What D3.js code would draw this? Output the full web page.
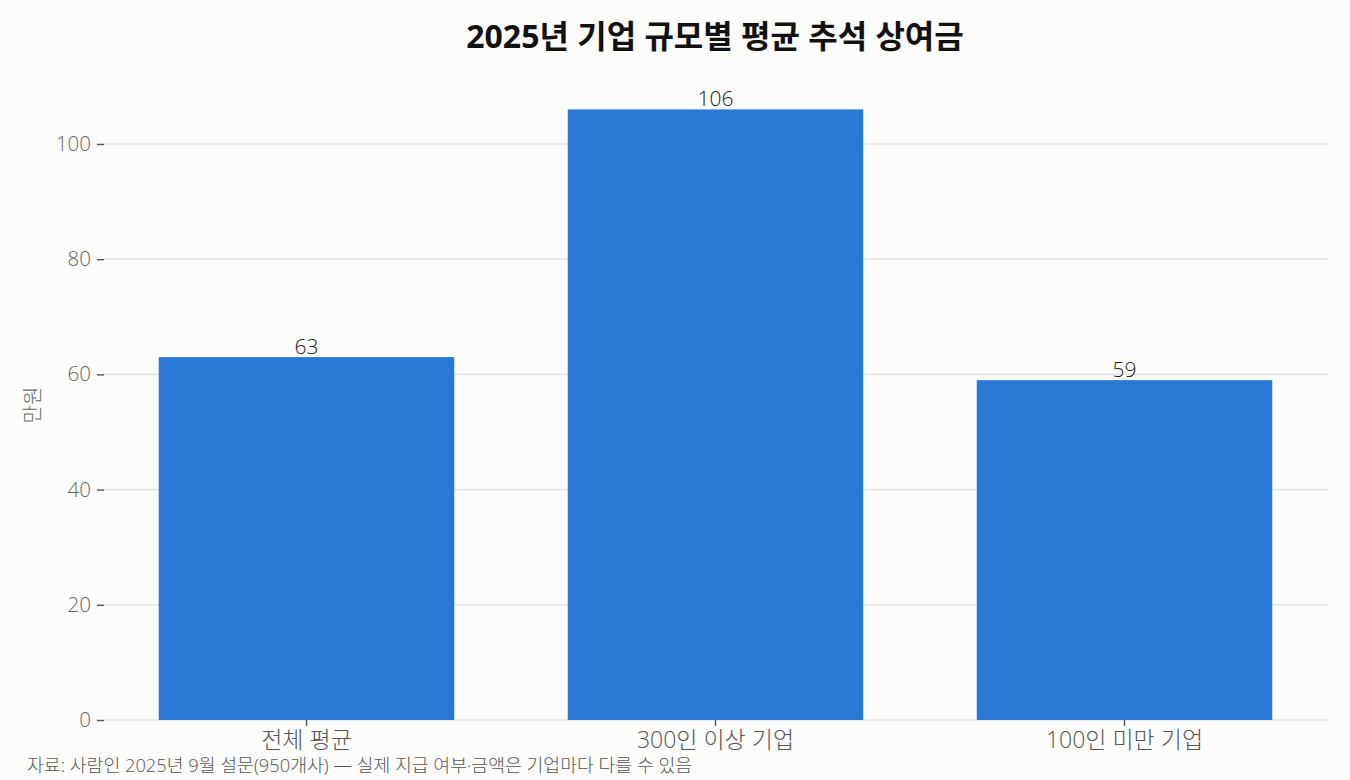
<!DOCTYPE html>
<html><head><meta charset="utf-8">
<script src="https://cdn.jsdelivr.net/npm/d3@7"></script>
<style>
html,body{margin:0;padding:0;background:#fcfcfa;}
svg{display:block;font-family:"Open Sans","Noto Sans CJK KR",sans-serif;}
</style></head><body>
<svg id="c" width="1350" height="780"></svg>
<script>
const categories = ["전체 평균", "300인 이상 기업", "100인 미만 기업"];
const values = [63, 106, 59];
const yTicks = [0, 20, 40, 60, 80, 100];
const title = "2025년 기업 규모별 평균 추석 상여금";
const yLabel = "만원";
const source = "자료: 사람인 2025년 9월 설문(950개사) — 실제 지급 여부·금액은 기업마다 다를 수 있음";

const FF = '"Open Sans","Noto Sans CJK KR",sans-serif';
const svg = d3.select("#c");
const W = 1350, H = 780;
const m = {left:104, right:22};
const x = d3.scaleBand().domain(categories).range([102, 1329]).paddingInner(0.2775).paddingOuter(0.13875);
const y = d3.scaleLinear().domain([0, 106]).range([720, 109.4]);

svg.append("rect").attr("width",W).attr("height",H).attr("fill","#fcfcfa");

svg.append("g").selectAll("line").data(yTicks).join("line")
  .attr("x1", m.left).attr("x2", W - m.right)
  .attr("y1", d=>y(d)).attr("y2", d=>y(d))
  .attr("stroke","#e6e6e6").attr("stroke-width",1.6);

svg.append("g").selectAll("rect").data(values).join("rect")
  .attr("x",(d,i)=>x(categories[i])).attr("width",x.bandwidth())
  .attr("y",d=>y(d)).attr("height",d=>y(0)-y(d))
  .attr("fill","#2a78d6");

svg.append("g").selectAll("text").data(values).join("text")
  .attr("x",(d,i)=>x(categories[i])+x.bandwidth()/2).attr("y",d=>y(d)-3)
  .attr("text-anchor","middle").attr("font-size",21).attr("font-weight",300).attr("fill","#1a1a1a")
  .attr("font-family",FF).text(d=>d);

const ya = d3.axisLeft(y).tickValues(yTicks).tickSize(7).tickPadding(6);
const gy = svg.append("g").attr("transform",`translate(${m.left},0)`).call(ya);
gy.select(".domain").remove();
gy.selectAll(".tick line").attr("stroke","#555").attr("stroke-width",1.4);
gy.selectAll(".tick text").attr("font-size",20.5).attr("font-weight",300).attr("fill","#666").attr("font-family",FF);

const xa = d3.axisBottom(x).tickSize(6).tickPadding(6);
const gx = svg.append("g").attr("transform",`translate(0,${y(0)})`).call(xa);
gx.select(".domain").remove();
gx.selectAll(".tick line").attr("stroke","#555").attr("stroke-width",1.4);
gx.selectAll(".tick text").attr("font-size",23).attr("font-weight",300).attr("fill","#555").attr("font-family",FF);

svg.append("text").attr("x",715).attr("y",48).attr("text-anchor","middle")
  .attr("font-size",32).attr("font-weight",700).attr("fill","#111").attr("font-family",FF).text(title);

svg.append("text").attr("transform","translate(40,405) rotate(-90)").attr("text-anchor","middle")
  .attr("font-size",20).attr("font-weight",300).attr("fill","#666").attr("font-family",FF).text(yLabel);

svg.append("text").attr("x",27).attr("y",772).attr("font-size",18.3).attr("font-weight",300)
  .attr("fill","#555").attr("font-family",FF).text(source);
</script>
</body></html>
